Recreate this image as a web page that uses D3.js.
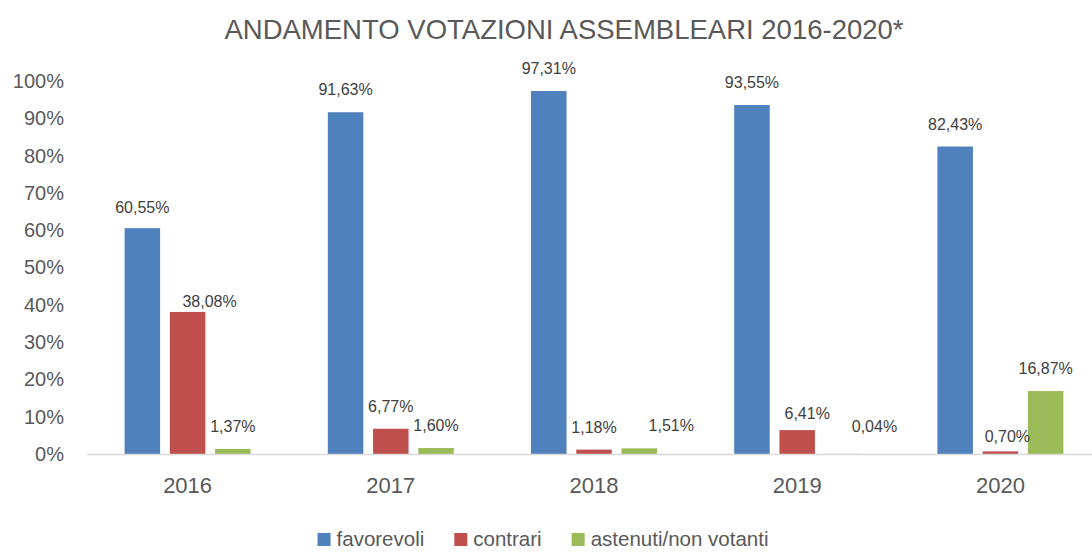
<!DOCTYPE html>
<html>
<head>
<meta charset="utf-8">
<script src="https://cdn.jsdelivr.net/npm/d3@7"></script>
<style>
  body { margin: 0; background: #fff; }
  svg { font-family: "Liberation Sans", Arial, sans-serif; }
</style>
</head>
<body>
<div class="chart"></div>
<script>
var years = ['2016', '2017', '2018', '2019', '2020'];
var seriesNames = ['favorevoli', 'contrari', 'astenuti/non votanti'];
var favorevoli = [60.55, 91.63, 97.31, 93.55, 82.43];
var contrari = [38.08, 6.77, 1.18, 6.41, 0.70];
var astenuti = [1.37, 1.60, 1.51, 0.04, 16.87];
var yTicks = [0, 10, 20, 30, 40, 50, 60, 70, 80, 90, 100];
var colours = ['#4f81bd', '#c0504d', '#9bbb59'];

// labels that Excel had moved by hand
var labelNudge = {
    '2016-0': [0, 2],
    '2016-1': [22, 12],
    '2018-2': [32, 0],
    '2019-1': [10, 6],
    '2019-2': [32, -5],
    '2020-1': [7, 8]
};

var width = 1092, height = 552;
var values = [favorevoli, contrari, astenuti];

var svg = d3.select('.chart')
    .append('svg')
    .attr('width', width)
    .attr('height', height);

svg.append('text')
    .attr('x', 564)
    .attr('y', 39)
    .attr('text-anchor', 'middle')
    .attr('font-size', 27.5)
    .attr('fill', '#595959')
    .text('ANDAMENTO VOTAZIONI ASSEMBLEARI 2016-2020*');

var x = d3.scaleBand()
    .domain(years)
    .range([86, 1102])
    .paddingInner(0.38)
    .paddingOuter(0.19);

var xs = d3.scaleBand()
    .domain(d3.range(3))
    .range([0, x.bandwidth()])
    .paddingInner(0.215);

var y = d3.scaleLinear()
    .domain([0, 100])
    .range([454, 81]);

// y labels
var yAxis = svg.append('g')
    .attr('transform', 'translate(64,0)')
    .call(d3.axisLeft(y).tickValues(yTicks).tickSize(0).tickPadding(0)
        .tickFormat(function (d) { return d + '%'; }));
yAxis.select('.domain').remove();
yAxis.selectAll('text')
    .attr('font-size', 20)
    .attr('font-family', '"Liberation Sans", Arial, sans-serif')
    .attr('fill', '#595959');

var rows = [];
years.forEach(function (yr, i) {
    values.forEach(function (arr, s) {
        rows.push({ year: yr, s: s, v: arr[i] });
    });
});

svg.append('g')
    .selectAll('rect')
    .data(rows)
    .enter()
    .append('rect')
    .attr('x', function (d) { return x(d.year) + xs(d.s); })
    .attr('y', function (d) { return y(d.v); })
    .attr('width', xs.bandwidth())
    .attr('height', function (d) { return y(0) - y(d.v); })
    .attr('fill', function (d) { return colours[d.s]; });

// x axis line and labels
var xAxis = svg.append('g')
    .attr('transform', 'translate(0,' + y(0) + ')')
    .call(d3.axisBottom(x).tickSize(0).tickPadding(0));
xAxis.select('.domain')
    .attr('stroke', '#d9d9d9')
    .attr('stroke-width', 1.5);
xAxis.selectAll('text')
    .attr('font-size', 22)
    .attr('font-family', '"Liberation Sans", Arial, sans-serif')
    .attr('fill', '#595959')
    .attr('dy', null)
    .attr('y', 39);

svg.append('g')
    .selectAll('text')
    .data(rows)
    .enter()
    .append('text')
    .attr('x', function (d) {
        var n = labelNudge[d.year + '-' + d.s] || [0, 0];
        return x(d.year) + xs(d.s) + xs.bandwidth() / 2 + n[0];
    })
    .attr('y', function (d) {
        var n = labelNudge[d.year + '-' + d.s] || [0, 0];
        return y(d.v) - 17 + n[1];
    })
    .attr('text-anchor', 'middle')
    .attr('font-size', 16)
    .attr('fill', '#404040')
    .text(function (d) { return d.v.toFixed(2).replace('.', ',') + '%'; });

// legend
var legend = svg.append('g');
var lx = 0;
seriesNames.forEach(function (name, s) {
    var item = legend.append('g').attr('transform', 'translate(' + lx + ',0)');
    item.append('rect')
        .attr('x', 0)
        .attr('y', 533)
        .attr('width', 13)
        .attr('height', 13)
        .attr('fill', colours[s]);
    var t = item.append('text')
        .attr('x', 19)
        .attr('y', 546)
        .attr('font-size', 20.5)
        .attr('fill', '#595959')
        .text(name);
    lx += 19 + t.node().getComputedTextLength() + 30;
});
var legendWidth = lx - 30;
legend.attr('transform', 'translate(' + (543 - legendWidth / 2) + ',0)');
</script>
</body>
</html>
